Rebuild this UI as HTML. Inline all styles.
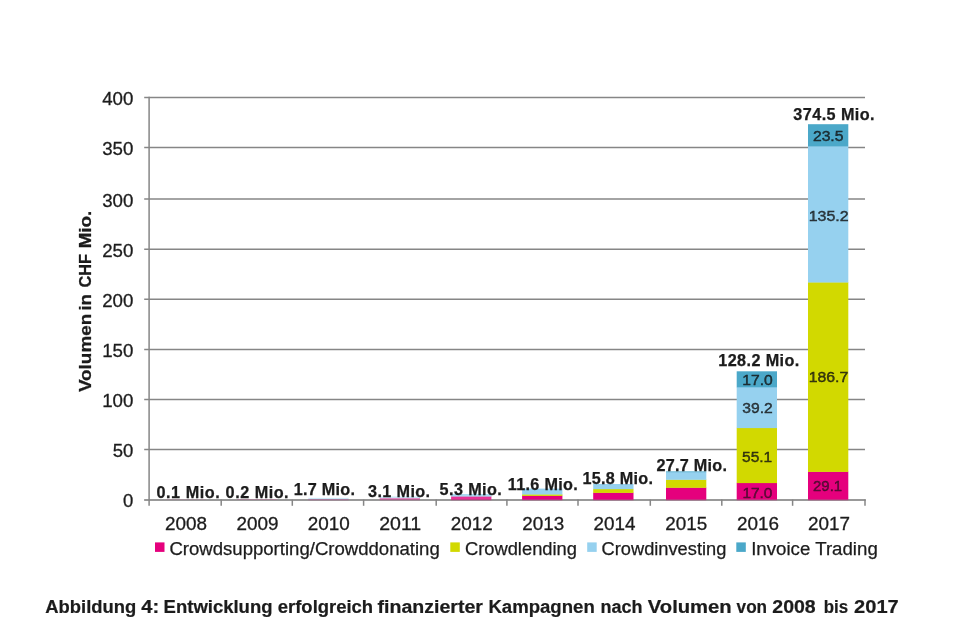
<!DOCTYPE html>
<html lang="de"><head><meta charset="utf-8"><title>Abbildung 4</title>
<style>html,body{margin:0;padding:0;background:#fff}body{width:969px;height:636px;overflow:hidden}svg{display:block;filter:blur(.45px)}text{font-family:"Liberation Sans",Arial,sans-serif;fill:#1c1c1c}.ax{font-size:18.8px;stroke:#1c1c1c;stroke-width:.3px}.b{font-weight:bold;font-size:16.2px;fill:#111;stroke:#111;stroke-width:.25px}.v{font-size:15px;fill:#000;fill-opacity:.8;stroke:#000;stroke-opacity:.8;stroke-width:.4px}.v .m{fill-opacity:.62;stroke-opacity:.62}.lg{font-size:17.6px}.lg text{stroke:#1c1c1c;stroke-width:.25px}.cap{font-weight:bold;font-size:18px;fill:#111;stroke:#111;stroke-width:.2px}.yt{font-weight:bold;font-size:17.4px;fill:#111;stroke:#111;stroke-width:.25px}</style></head><body>
<svg width="969" height="636" viewBox="0 0 969 636">
<rect width="969" height="636" fill="#fff"/>
<g stroke="#868686" stroke-width="1.5" fill="none">
<line x1="144.2" x2="865" y1="449.40" y2="449.40"/>
<line x1="144.2" x2="865" y1="399.50" y2="399.50"/>
<line x1="144.2" x2="865" y1="349.60" y2="349.60"/>
<line x1="144.2" x2="865" y1="299.20" y2="299.20"/>
<line x1="144.2" x2="865" y1="249.20" y2="249.20"/>
<line x1="144.2" x2="865" y1="199.10" y2="199.10"/>
<line x1="144.2" x2="865" y1="147.50" y2="147.50"/>
<line x1="144.2" x2="865" y1="97.45" y2="97.45"/>
</g>
<g stroke="#868686" stroke-width="1.5" fill="none">
<line x1="149.1" x2="149.1" y1="96.7" y2="505.8"/>
<line x1="144.2" x2="865.7" y1="499.90" y2="499.90"/>
<line x1="221.20" x2="221.20" y1="499.60" y2="505.8"/>
<line x1="292.30" x2="292.30" y1="499.60" y2="505.8"/>
<line x1="363.60" x2="363.60" y1="499.60" y2="505.8"/>
<line x1="436.20" x2="436.20" y1="499.60" y2="505.8"/>
<line x1="506.90" x2="506.90" y1="499.60" y2="505.8"/>
<line x1="578.00" x2="578.00" y1="499.60" y2="505.8"/>
<line x1="650.30" x2="650.30" y1="499.60" y2="505.8"/>
<line x1="721.80" x2="721.80" y1="499.60" y2="505.8"/>
<line x1="792.60" x2="792.60" y1="499.60" y2="505.8"/>
<line x1="865.00" x2="865.00" y1="499.60" y2="505.8"/>
</g>
<g>
<rect x="165.60" y="499.50" width="40.30" height="0.10" fill="#e5007d"/>
<rect x="237.00" y="499.40" width="40.30" height="0.20" fill="#e5007d"/>
<rect x="308.30" y="499.10" width="40.30" height="1.10" fill="#e5007d" fill-opacity=".5"/>
<rect x="308.30" y="497.89" width="40.30" height="1.50" fill="#96d1ef" fill-opacity=".5"/>
<rect x="379.70" y="497.99" width="40.30" height="2.21" fill="#e5007d" fill-opacity=".5"/>
<rect x="379.70" y="496.49" width="40.30" height="1.81" fill="#96d1ef" fill-opacity=".5"/>
<rect x="451.10" y="496.30" width="40.30" height="3.90" fill="#e5007d" fill-opacity=".8"/>
<rect x="451.10" y="494.00" width="40.30" height="2.60" fill="#96d1ef" fill-opacity=".8"/>
<rect x="522.10" y="495.60" width="40.30" height="4.60" fill="#e5007d"/>
<rect x="522.10" y="494.20" width="40.30" height="1.70" fill="#d2d900"/>
<rect x="522.10" y="488.60" width="40.30" height="5.90" fill="#96d1ef"/>
<rect x="593.20" y="492.60" width="40.30" height="7.60" fill="#e5007d"/>
<rect x="593.20" y="488.90" width="40.30" height="4.00" fill="#d2d900"/>
<rect x="593.20" y="484.00" width="40.30" height="5.20" fill="#96d1ef"/>
<rect x="666.00" y="487.50" width="40.30" height="12.70" fill="#e5007d"/>
<rect x="666.00" y="479.50" width="40.30" height="8.30" fill="#d2d900"/>
<rect x="666.00" y="471.90" width="40.30" height="7.90" fill="#96d1ef"/>
<rect x="666.00" y="471.40" width="40.30" height="0.80" fill="#4ba8c9"/>
<rect x="736.70" y="482.80" width="40.30" height="17.40" fill="#e5007d"/>
<rect x="736.70" y="427.80" width="40.30" height="55.30" fill="#d2d900"/>
<rect x="736.70" y="387.00" width="40.30" height="41.10" fill="#96d1ef"/>
<rect x="736.70" y="371.30" width="40.30" height="16.00" fill="#4ba8c9"/>
<rect x="808.00" y="471.60" width="40.30" height="28.60" fill="#e5007d"/>
<rect x="808.00" y="282.20" width="40.30" height="189.70" fill="#d2d900"/>
<rect x="808.00" y="146.10" width="40.30" height="136.40" fill="#96d1ef"/>
<rect x="808.00" y="124.20" width="40.30" height="22.20" fill="#4ba8c9"/>
</g>
<line x1="144.2" x2="865.7" y1="499.90" y2="499.90" stroke="#868686" stroke-width="1.5" stroke-opacity=".45"/>
<g class="ax">
<text x="123.10" y="507.00" textLength="10.30" lengthAdjust="spacingAndGlyphs">0</text>
<text x="112.80" y="456.80" textLength="20.60" lengthAdjust="spacingAndGlyphs">50</text>
<text x="102.20" y="406.90" textLength="31.20" lengthAdjust="spacingAndGlyphs">100</text>
<text x="102.20" y="357.00" textLength="31.20" lengthAdjust="spacingAndGlyphs">150</text>
<text x="102.20" y="306.60" textLength="31.20" lengthAdjust="spacingAndGlyphs">200</text>
<text x="102.20" y="256.60" textLength="31.20" lengthAdjust="spacingAndGlyphs">250</text>
<text x="102.20" y="206.50" textLength="31.20" lengthAdjust="spacingAndGlyphs">300</text>
<text x="102.20" y="154.90" textLength="31.20" lengthAdjust="spacingAndGlyphs">350</text>
<text x="102.20" y="104.85" textLength="31.20" lengthAdjust="spacingAndGlyphs">400</text>
</g>
<g class="ax" text-anchor="middle">
<text x="186.00" y="530.3" textLength="42" lengthAdjust="spacingAndGlyphs">2008</text>
<text x="257.40" y="530.3" textLength="42" lengthAdjust="spacingAndGlyphs">2009</text>
<text x="328.80" y="530.3" textLength="42" lengthAdjust="spacingAndGlyphs">2010</text>
<text x="400.20" y="530.3" textLength="42" lengthAdjust="spacingAndGlyphs">2011</text>
<text x="471.80" y="530.3" textLength="42" lengthAdjust="spacingAndGlyphs">2012</text>
<text x="543.20" y="530.3" textLength="42" lengthAdjust="spacingAndGlyphs">2013</text>
<text x="614.60" y="530.3" textLength="42" lengthAdjust="spacingAndGlyphs">2014</text>
<text x="686.20" y="530.3" textLength="42" lengthAdjust="spacingAndGlyphs">2015</text>
<text x="758.00" y="530.3" textLength="42" lengthAdjust="spacingAndGlyphs">2016</text>
<text x="829.00" y="530.3" textLength="42" lengthAdjust="spacingAndGlyphs">2017</text>
</g>
<g class="b">
<text x="156.40" y="497.80" textLength="63.30" lengthAdjust="spacing">0.1 Mio.</text>
<text x="225.60" y="497.80" textLength="63.00" lengthAdjust="spacing">0.2 Mio.</text>
<text x="293.70" y="495.20" textLength="61.30" lengthAdjust="spacing">1.7 Mio.</text>
<text x="368.00" y="496.60" textLength="62.10" lengthAdjust="spacing">3.1 Mio.</text>
<text x="439.60" y="495.00" textLength="62.20" lengthAdjust="spacing">5.3 Mio.</text>
<text x="507.80" y="489.70" textLength="70.00" lengthAdjust="spacing">11.6 Mio.</text>
<text x="582.60" y="483.70" textLength="70.30" lengthAdjust="spacing">15.8 Mio.</text>
<text x="656.60" y="471.10" textLength="70.30" lengthAdjust="spacing">27.7 Mio.</text>
<text x="718.30" y="365.50" textLength="80.90" lengthAdjust="spacing">128.2 Mio.</text>
<text x="793.30" y="120.30" textLength="81.30" lengthAdjust="spacing">374.5 Mio.</text>
</g>
<g class="v">
<text x="812.90" y="141.40" textLength="30.60" lengthAdjust="spacingAndGlyphs">23.5</text>
<text x="808.70" y="221.20" textLength="40.00" lengthAdjust="spacingAndGlyphs">135.2</text>
<text x="808.70" y="382.10" textLength="39.60" lengthAdjust="spacingAndGlyphs">186.7</text>
<text class="m" x="813.00" y="491.10" textLength="29.10" lengthAdjust="spacingAndGlyphs">29.1</text>
<text x="742.30" y="385.30" textLength="30.50" lengthAdjust="spacingAndGlyphs">17.0</text>
<text x="742.30" y="413.30" textLength="30.50" lengthAdjust="spacingAndGlyphs">39.2</text>
<text x="742.00" y="461.60" textLength="30.20" lengthAdjust="spacingAndGlyphs">55.1</text>
<text class="m" x="742.40" y="497.90" textLength="30.00" lengthAdjust="spacingAndGlyphs">17.0</text>
</g>
<g class="lg">
<rect x="155.0" y="542.4" width="9.5" height="9.5" fill="#e5007d"/>
<text x="169.40" y="555.3" textLength="270.40" lengthAdjust="spacingAndGlyphs">Crowdsupporting/Crowddonating</text>
<rect x="450.3" y="542.4" width="9.5" height="9.5" fill="#d2d900"/>
<text x="464.90" y="555.3" textLength="112.10" lengthAdjust="spacingAndGlyphs">Crowdlending</text>
<rect x="587.2" y="542.4" width="9.5" height="9.5" fill="#96d1ef"/>
<text x="601.60" y="555.3" textLength="124.70" lengthAdjust="spacingAndGlyphs">Crowdinvesting</text>
<rect x="736.3" y="542.4" width="9.5" height="9.5" fill="#4ba8c9"/>
<text x="751.20" y="555.3" textLength="126.60" lengthAdjust="spacingAndGlyphs">Invoice Trading</text>
</g>
<g class="yt">
<text transform="translate(91.3,392.10) rotate(-90)" textLength="78.30" lengthAdjust="spacingAndGlyphs">Volumen</text>
<text transform="translate(91.3,310.60) rotate(-90)" textLength="16.50" lengthAdjust="spacingAndGlyphs">in</text>
<text transform="translate(91.3,287.60) rotate(-90)" textLength="33.70" lengthAdjust="spacingAndGlyphs">CHF</text>
<text transform="translate(91.3,248.30) rotate(-90)" textLength="37.60" lengthAdjust="spacingAndGlyphs">Mio.</text>
</g>
<g class="cap">
<text x="45.30" y="612.7" textLength="91.00" lengthAdjust="spacingAndGlyphs">Abbildung</text>
<text x="141.30" y="612.7" textLength="17.90" lengthAdjust="spacingAndGlyphs">4:</text>
<text x="163.60" y="612.7" textLength="108.90" lengthAdjust="spacingAndGlyphs">Entwicklung</text>
<text x="277.80" y="612.7" textLength="95.30" lengthAdjust="spacingAndGlyphs">erfolgreich</text>
<text x="377.50" y="612.7" textLength="105.50" lengthAdjust="spacingAndGlyphs">finanzierter</text>
<text x="488.40" y="612.7" textLength="106.40" lengthAdjust="spacingAndGlyphs">Kampagnen</text>
<text x="600.50" y="612.7" textLength="42.00" lengthAdjust="spacingAndGlyphs">nach</text>
<text x="647.80" y="612.7" textLength="83.90" lengthAdjust="spacingAndGlyphs">Volumen</text>
<text x="736.60" y="612.7" textLength="30.50" lengthAdjust="spacingAndGlyphs">von</text>
<text x="772.30" y="612.7" textLength="43.40" lengthAdjust="spacingAndGlyphs">2008</text>
<text x="823.80" y="612.7" textLength="24.40" lengthAdjust="spacingAndGlyphs">bis</text>
<text x="854.10" y="612.7" textLength="44.60" lengthAdjust="spacingAndGlyphs">2017</text>
</g>
</svg></body></html>
